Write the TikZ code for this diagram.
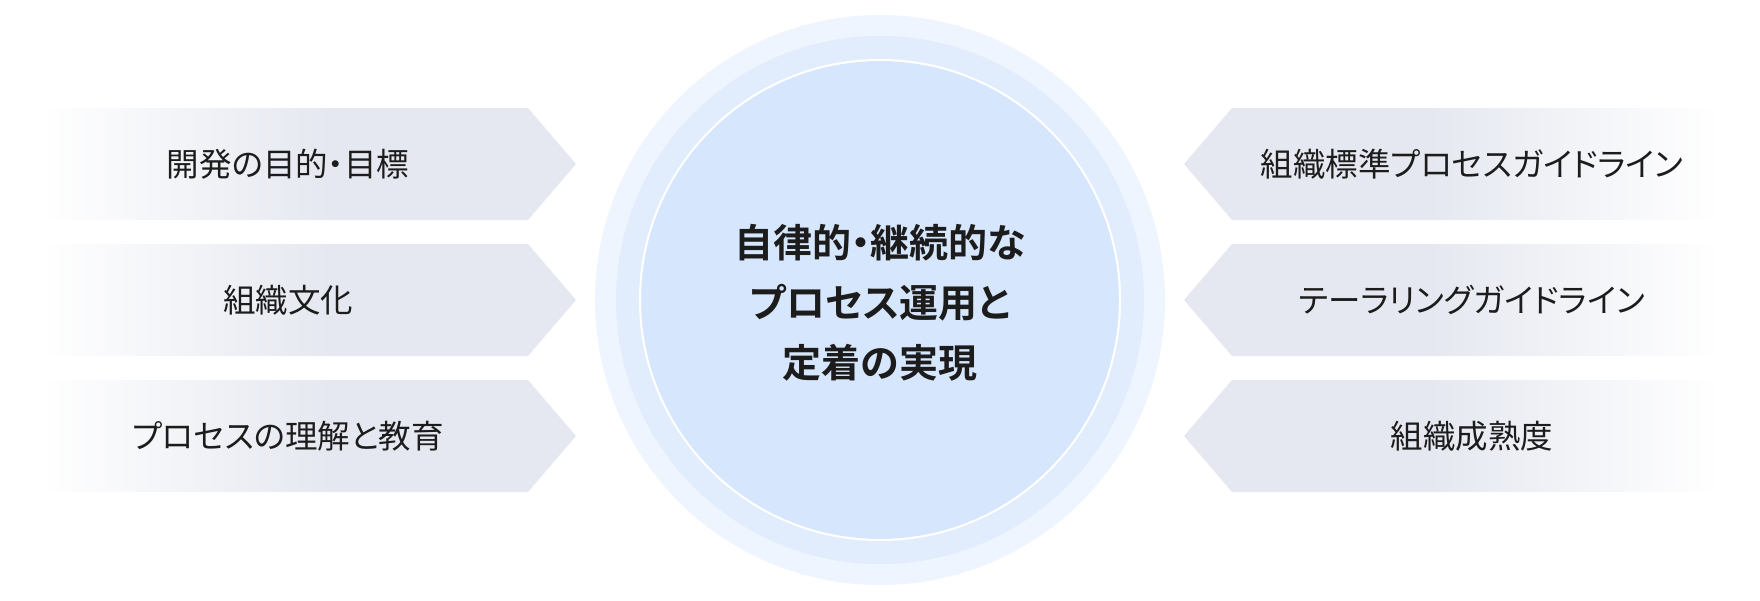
\documentclass[tikz,border=0pt]{standalone}
\usepackage{fontspec}
\setmainfont{Noto Sans CJK JP}[BoldFont={Noto Sans CJK JP Bold}, RawFeature=+palt]
\usepackage{xcolor}
\newcommand{\fadeL}{40}
\newcommand{\bodyL}{528}
\newcommand{\tipL}{576}
\newcommand{\fadeR}{1720}
\newcommand{\bodyR}{1232}
\newcommand{\tipR}{1184}
\newcommand{\halfH}{56}
\newcommand{\rowA}{164}
\newcommand{\rowB}{300}
\newcommand{\rowC}{436}
\newcommand{\midX}{880}
\newcommand{\midY}{300}
\definecolor{boxcolor}{HTML}{E5E8F0}
\definecolor{outercolor}{HTML}{EFF5FE}
\definecolor{ringcolor}{HTML}{E1EDFD}
\definecolor{innercolor}{HTML}{D6E6FC}
\definecolor{textcolor}{HTML}{1C1C1C}
\pgfdeclarehorizontalshading{leftfade}{100bp}{color(0bp)=(white); color(25bp)=(white); color(52bp)=(boxcolor); color(100bp)=(boxcolor)}
\pgfdeclarehorizontalshading{rightfade}{100bp}{color(0bp)=(boxcolor); color(48bp)=(boxcolor); color(75bp)=(white); color(100bp)=(white)}

\begin{document}
\begin{tikzpicture}[x=1pt, y=-1pt, label/.style={text=textcolor, font=\fontsize{32.5pt}{38pt}\selectfont}]
    \useasboundingbox (0, 0) rectangle (1760, 600);
    
    % left arrows
    \shade[shading=leftfade] (\fadeL, \rowA-\halfH) -- (\bodyL, \rowA-\halfH) -- (\tipL, \rowA) -- (\bodyL, \rowA+\halfH) -- (\fadeL, \rowA+\halfH) -- cycle;
    \shade[shading=leftfade] (\fadeL, \rowB-\halfH) -- (\bodyL, \rowB-\halfH) -- (\tipL, \rowB) -- (\bodyL, \rowB+\halfH) -- (\fadeL, \rowB+\halfH) -- cycle;
    \shade[shading=leftfade] (\fadeL, \rowC-\halfH) -- (\bodyL, \rowC-\halfH) -- (\tipL, \rowC) -- (\bodyL, \rowC+\halfH) -- (\fadeL, \rowC+\halfH) -- cycle;
    
    % right arrows
    \shade[shading=rightfade] (\fadeR, \rowA-\halfH) -- (\bodyR, \rowA-\halfH) -- (\tipR, \rowA) -- (\bodyR, \rowA+\halfH) -- (\fadeR, \rowA+\halfH) -- cycle;
    \shade[shading=rightfade] (\fadeR, \rowB-\halfH) -- (\bodyR, \rowB-\halfH) -- (\tipR, \rowB) -- (\bodyR, \rowB+\halfH) -- (\fadeR, \rowB+\halfH) -- cycle;
    \shade[shading=rightfade] (\fadeR, \rowC-\halfH) -- (\bodyR, \rowC-\halfH) -- (\tipR, \rowC) -- (\bodyR, \rowC+\halfH) -- (\fadeR, \rowC+\halfH) -- cycle;
    
    % circles
    \coordinate (center) at (\midX, \midY);
    \fill[outercolor] (center) circle (285pt);
    \fill[ringcolor] (center) circle (264pt);
    \fill[innercolor, draw=white, line width=2pt] (center) circle (240pt);
    
    % labels
    \node [label] (goal) at (288, \rowA) {開発の目的・目標};
    \node [label] (culture) at (288, \rowB) {組織文化};
    \node [label] (education) at (288, \rowC) {プロセスの理解と教育};
    \node [label] (standard) at (1472, \rowA) {組織標準プロセスガイドライン};
    \node [label] (tailoring) at (1472, \rowB) {テーラリングガイドライン};
    \node [label] (maturity) at (1472, \rowC) {組織成熟度};
    
    \node [text=textcolor, align=center, font=\fontsize{39pt}{60pt}\selectfont\bfseries] (core) at (\midX, \midY+3) {自律的・継続的な\\プロセス運用と\\定着の実現};
\end{tikzpicture}
\end{document}
